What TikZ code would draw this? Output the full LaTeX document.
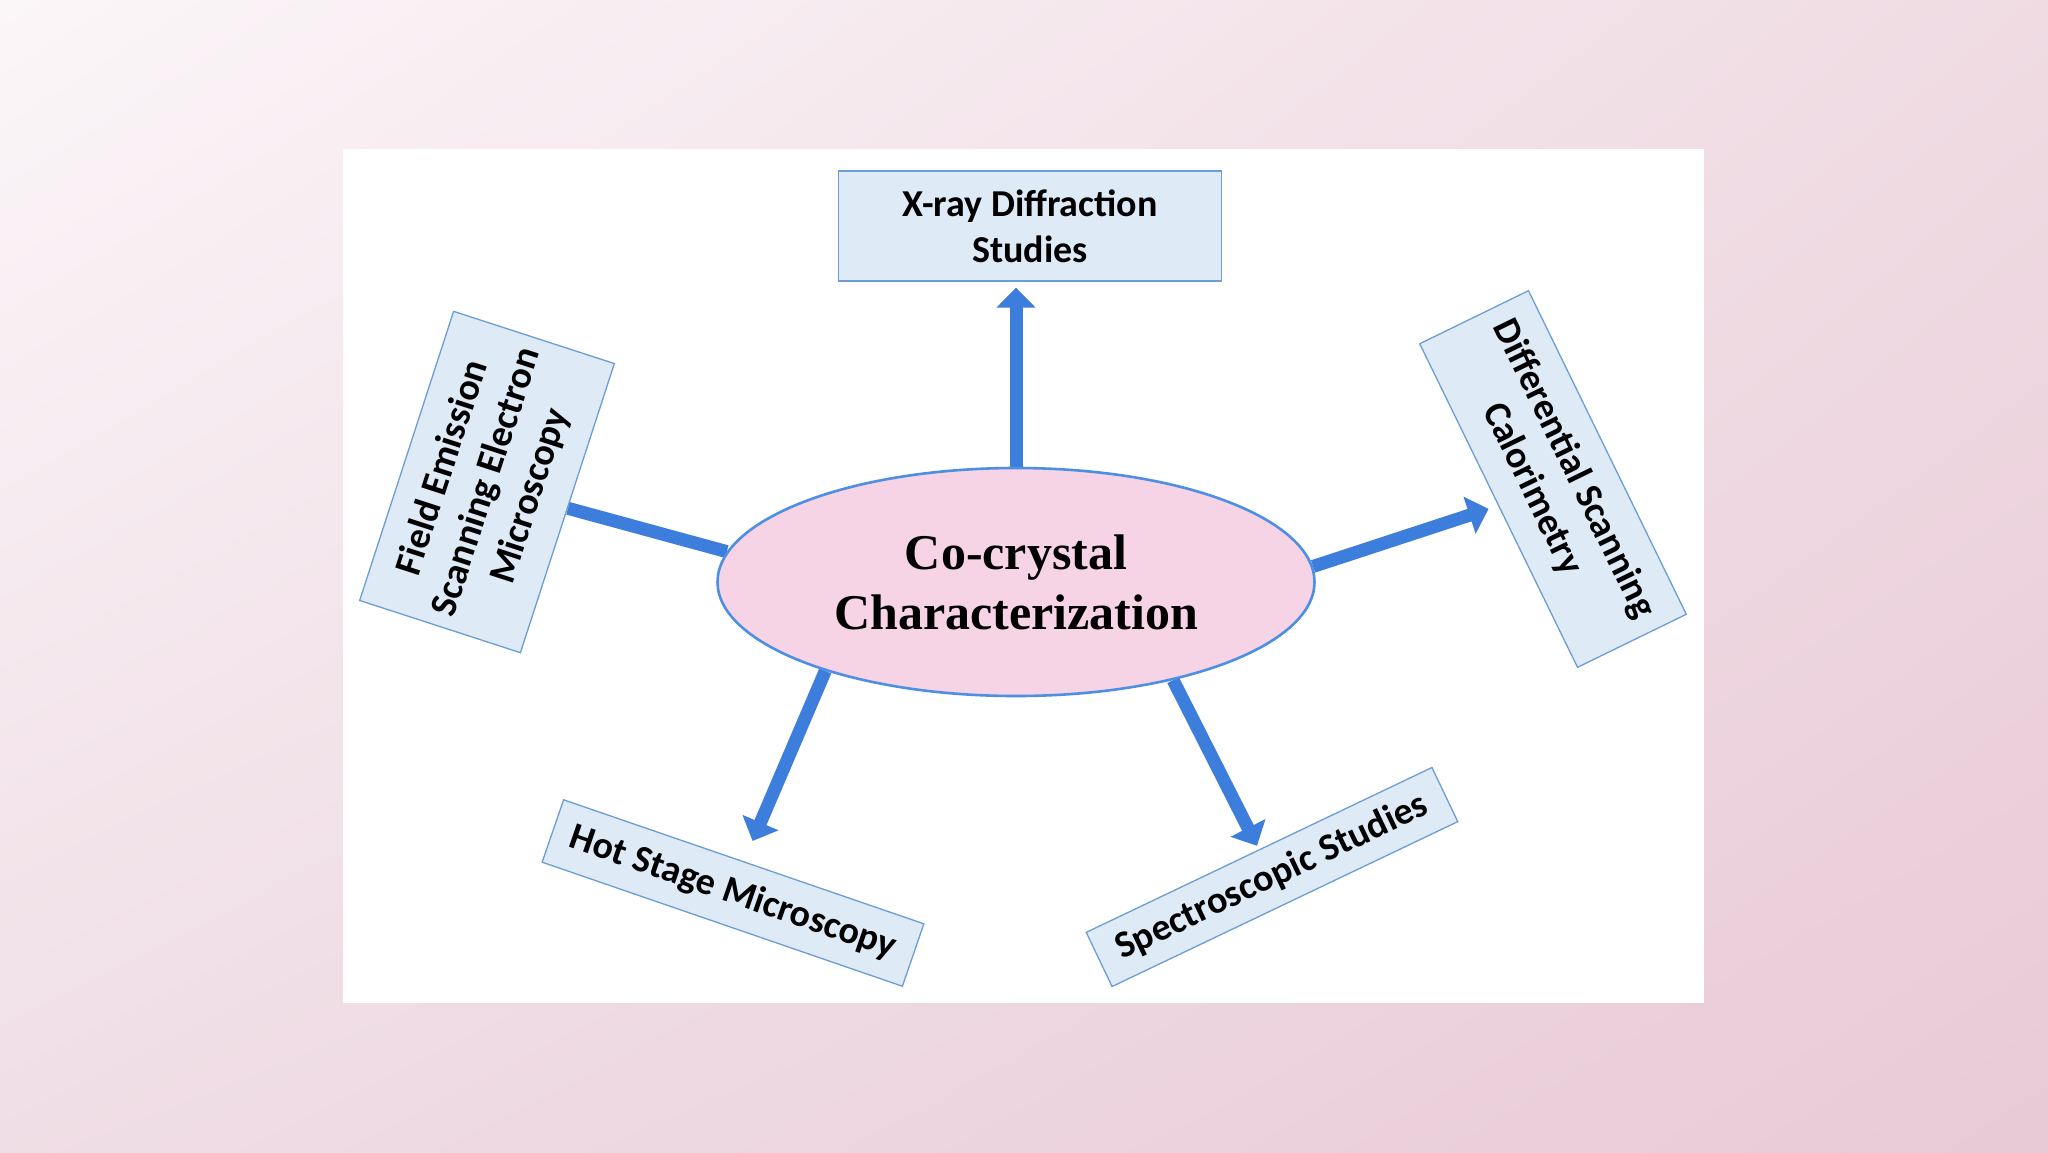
\documentclass[tikz,border=0pt]{standalone}
\usepackage{fontspec}
\setmainfont{Carlito}
\newfontfamily\titlefont{Liberation Serif}
\usetikzlibrary{arrows.meta,shapes.geometric,shadings}
\definecolor{BackClrA}{rgb}{0.985,0.965,0.975}
\definecolor{BackClrB}{rgb}{0.94,0.86,0.89}
\definecolor{BackClrC}{rgb}{0.94,0.87,0.9}
\definecolor{BackClrD}{rgb}{0.91,0.79,0.84}
\definecolor{BoxClr}{rgb}{0.87,0.92,0.97}
\definecolor{BoxLineClr}{rgb}{0.42,0.62,0.83}
\definecolor{EllClr}{rgb}{0.97,0.83,0.9}
\definecolor{EllLineClr}{rgb}{0.3,0.56,0.89}
\definecolor{ArrowClr}{rgb}{0.24,0.49,0.86}
\pgfdeclarelayer{bg}
\pgfsetlayers{bg,main}

\begin{document}
\begin{tikzpicture}[x=1pt,y=-1pt,
  box/.style={draw=BoxLineClr,line width=1.3pt,fill=BoxClr,inner sep=0pt,align=center,
    font=\fontsize{38}{46}\selectfont\bfseries},
  link/.style={draw=ArrowClr,line width=13pt},
  arr/.style={link,-{Triangle[width=38pt,length=20pt]}}]

\useasboundingbox (0,0) rectangle (2048,1152);

\node[ellipse,draw=EllLineClr,line width=2.6pt,fill=EllClr,inner sep=0pt,
  minimum width=597pt,minimum height=228pt,align=center,
  font=\titlefont\fontsize{50}{60}\selectfont\bfseries] (cc) at (1016,582) {Co-crystal\\Characterization};

\node[box,minimum width=383pt,minimum height=110pt] (xrd) at (1030,226) {X-ray Diffraction\\Studies};
\node[box,minimum width=304pt,minimum height=169pt,rotate=72] (fesem) at (487,482) {Field Emission\\Scanning Electron\\Microscopy};
\node[box,minimum width=360pt,minimum height=121pt,rotate=-64] (dsc) at (1553,479) {Differential Scanning\\Calorimetry};
\node[box,minimum width=381pt,minimum height=66pt,rotate=-19] (hsm) at (733,893) {Hot Stage Microscopy};
\node[box,minimum width=383pt,minimum height=60pt,rotate=25.5] (spec) at (1272,877) {Spectroscopic Studies};

\begin{pgfonlayer}{bg}
\shade[upper left=BackClrA,upper right=BackClrB,lower left=BackClrC,lower right=BackClrD] (0,0) rectangle (2048,1152);
\fill[white] (343,149) rectangle (1704,1003);
\draw[arr,shorten >=6pt] (cc.north) -- (cc.north |- xrd.south);
\draw[arr,shorten >=10pt] (cc.3.9) -- (dsc.south);
\draw[arr,shorten >=22pt] (cc.205) -- (hsm.north);
\draw[arr,shorten >=4pt] (cc.-32.5) -- (spec.north);
\draw[link] (fesem.south) -- (cc.174);
\end{pgfonlayer}

\end{tikzpicture}
\end{document}
